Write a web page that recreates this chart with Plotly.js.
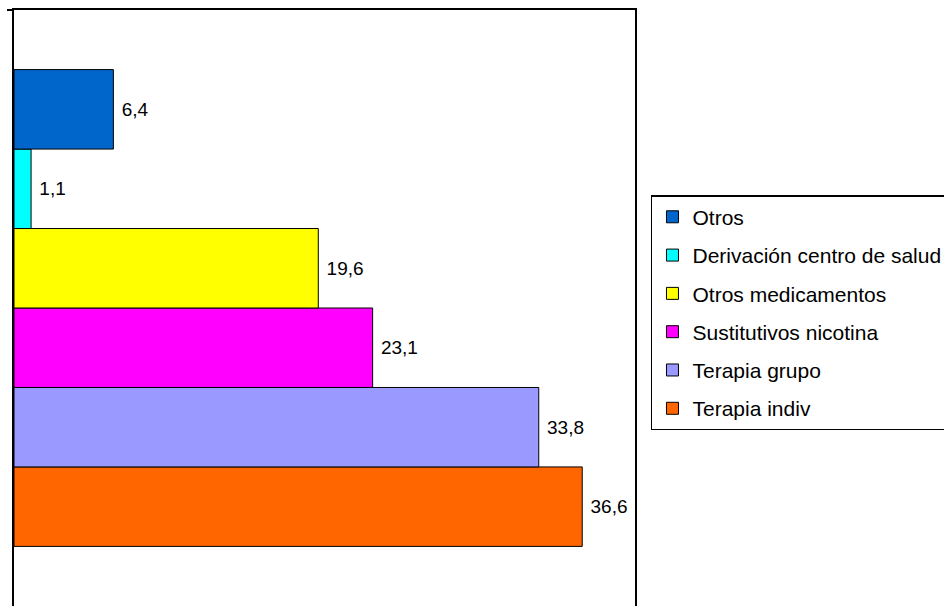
<!DOCTYPE html>
<html>
<head>
<meta charset="utf-8">
<script src="https://cdn.plot.ly/plotly-3.0.1.min.js"></script>
<style>html,body{margin:0;padding:0;background:#fff;}#chart{width:944px;height:606px;}</style>
</head>
<body>
<div id="chart"></div>
<script>
// Series in drawing order (bottom bar first)
const seriesNames = ["Terapia indiv", "Terapia grupo", "Sustitutivos nicotina", "Otros medicamentos", "Derivación centro de salud", "Otros"];
const seriesValues = [36.6, 33.8, 23.1, 19.6, 1.1, 6.4];
const seriesColors = ["#FF6600", "#9999FF", "#FF00FF", "#FFFF00", "#00FFFF", "#0066CC"];
const category = ["Total"];

const FONT = "Liberation Sans, Arial, sans-serif";
const traces = seriesNames.map((name, i) => ({
  type: "bar",
  orientation: "h",
  name: name,
  legendgroup: "g" + i,
  legendrank: seriesNames.length - i,
  x: [seriesValues[i]],
  y: category,
  marker: {color: seriesColors[i], line: {color: "#000", width: 1}},
  texttemplate: " %{x:.1f}",
  textposition: "outside",
  textfont: {family: FONT, size: 19, color: "#000"},
  cliponaxis: false,
  hoverinfo: "none"
}));

const layout = {
  width: 944, height: 606,
  margin: {l: 14, r: 309, t: 10, b: 0},
  paper_bgcolor: "#fff", plot_bgcolor: "#fff",
  separators: ",.",
  barmode: "group",
  bargap: 0.2,
  bargroupgap: 0,
  showlegend: true,
  font: {family: FONT, size: 19, color: "#000"},
  xaxis: {range: [0, 40], side: "top", showline: true, linecolor: "#000", linewidth: 2,
          showgrid: false, zeroline: false, showticklabels: false, ticks: ""},
  yaxis: {type: "category", range: [-0.5, 0.5], showline: true, mirror: true, linecolor: "#000", linewidth: 2,
          showgrid: false, zeroline: false, showticklabels: false, ticks: ""},
  legend: {xref: "container", yref: "container", x: 0.6896, xanchor: "left", y: 0.678, yanchor: "top",
           traceorder: "grouped", tracegroupgap: 8,
           bordercolor: "#000", borderwidth: 1.5, bgcolor: "#fff",
           font: {family: FONT, size: 21, color: "#000"}},
  shapes: [{type: "line", xref: "paper", yref: "paper", x0: -0.0113, x1: 0, y0: 1, y1: 1,
            line: {color: "#000", width: 2}}]
};

Plotly.newPlot("chart", traces, layout, {displayModeBar: false, staticPlot: true});
</script>
</body>
</html>
